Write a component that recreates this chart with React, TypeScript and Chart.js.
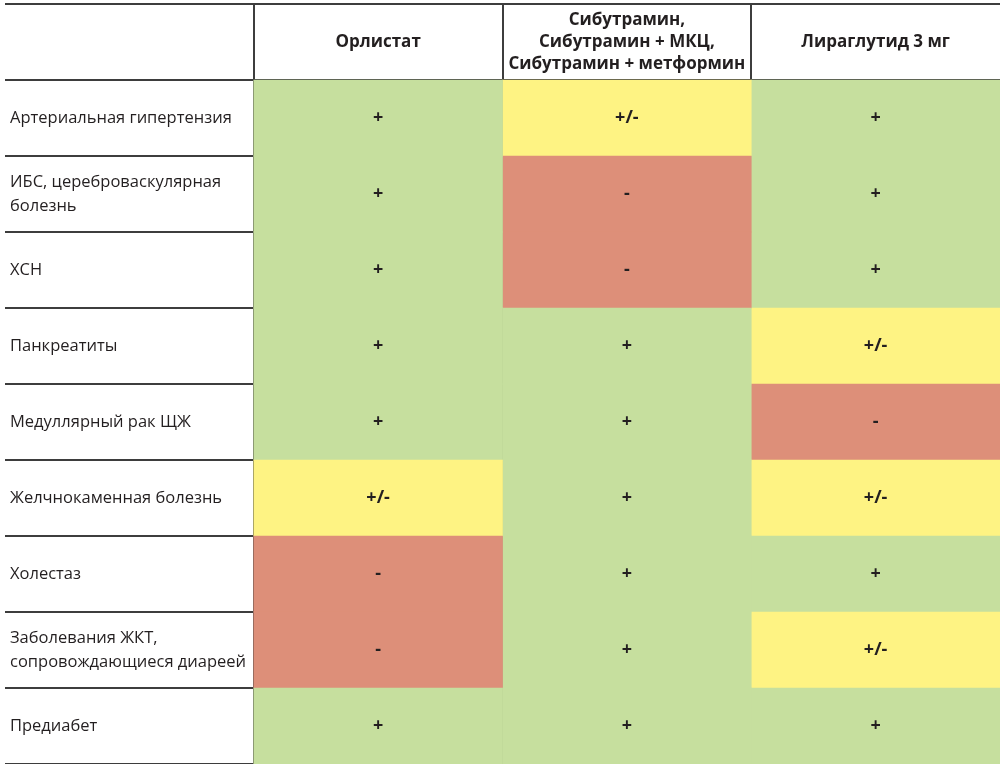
import React, { useEffect, useRef } from 'react';
import { Chart, registerables } from 'chart.js';

Chart.register(...registerables);

const rowLabels: string[][] = [
  ['Артериальная гипертензия'],
  ['ИБС, цереброваскулярная', 'болезнь'],
  ['ХСН'],
  ['Панкреатиты'],
  ['Медуллярный рак ЩЖ'],
  ['Желчнокаменная болезнь'],
  ['Холестаз'],
  ['Заболевания ЖКТ,', 'сопровождающиеся диареей'],
  ['Предиабет'],
];

const columnHeaders: string[][] = [
  ['Орлистат'],
  ['Сибутрамин,', 'Сибутрамин + МКЦ,', 'Сибутрамин + метформин'],
  ['Лираглутид 3 мг'],
];

const orlistat = ['+', '+', '+', '+', '+', '+/-', '-', '-', '+'];
const sibutramine = ['+/-', '-', '-', '+', '+', '+', '+', '+', '+'];
const liraglutide = ['+', '+', '+', '+/-', '-', '+/-', '+', '+/-', '+'];

const columns = [orlistat, sibutramine, liraglutide];

const statusColors: Record<string, string> = {
  '+': '#c6df9e',
  '+/-': '#fef383',
  '-': '#dd8f79',
};

const LINE = '#3d3d3d';
const TEXT = '#231f20';
const FONT = '"Open Sans", "Noto Sans", sans-serif';

const categories = ['header', ...rowLabels.map((l) => l.join(' '))];

const tablePlugin = {
  id: 'tableText',
  afterDraw(chart: any) {
    const { ctx } = chart;
    const x = chart.scales.x;
    const y = chart.scales.y;
    ctx.save();
    ctx.fillStyle = TEXT;
    ctx.textBaseline = 'middle';

    // row labels
    ctx.textAlign = 'left';
    ctx.font = `16.5px ${FONT}`;
    rowLabels.forEach((lines, i) => {
      const cy = y.getPixelForValue(i + 1);
      const lh = 24;
      const start = cy - ((lines.length - 1) * lh) / 2;
      lines.forEach((t, j) => ctx.fillText(t, x.getPixelForValue(0) + 5, start + j * lh));
    });

    // headers
    ctx.textAlign = 'center';
    ctx.font = `bold 17px ${FONT}`;
    columnHeaders.forEach((lines, k) => {
      const cx = (x.getPixelForValue(k + 1) + x.getPixelForValue(k + 2)) / 2;
      const cy = y.getPixelForValue(0);
      const lh = 22;
      const start = cy - ((lines.length - 1) * lh) / 2;
      lines.forEach((t, j) => ctx.fillText(t, cx, start + j * lh));
    });

    // cell symbols
    ctx.font = `bold 18px ${FONT}`;
    chart.data.datasets.forEach((ds: any, k: number) => {
      const meta = chart.getDatasetMeta(k);
      meta.data.forEach((el: any, i: number) => {
        if (i === 0) return;
        const cx = (x.getPixelForValue(k + 1) + x.getPixelForValue(k + 2)) / 2;
        ctx.fillText(columns[k][i - 1], cx, el.y);
      });
    });
    ctx.restore();
  },
};

export default function App() {
  const ref = useRef<HTMLCanvasElement>(null);
  useEffect(() => {
    if (!ref.current) return;
    const datasets = columns.map((col, k) => ({
      label: columnHeaders[k].join(' '),
      data: [null, ...col.map(() => [k + 1, k + 2])] as any,
      backgroundColor: ['rgba(0,0,0,0)', ...col.map((s) => statusColors[s])],
      borderWidth: 0,
      borderSkipped: false,
      barPercentage: 1,
      categoryPercentage: 1,
      grouped: false,
    }));
    const chart = new Chart(ref.current, {
      type: 'bar',
      data: { labels: categories, datasets },
      options: {
        indexAxis: 'y',
        animation: false,
        responsive: true,
        maintainAspectRatio: false,
        layout: { padding: { top: 4, left: 5, right: 0, bottom: 0 } },
        plugins: { legend: { display: false }, tooltip: { enabled: false } },
        scales: {
          x: {
            type: 'linear',
            min: 0,
            max: 4,
            z: 1,
            ticks: { display: false, stepSize: 1 },
            border: { display: false },
            grid: {
              drawTicks: false,
              lineWidth: 2,
              color: (c: any) =>
                c.tick && c.tick.value > 0 && c.tick.value < 4 ? LINE : 'rgba(0,0,0,0)',
            },
          },
          y: {
            type: 'category',
            z: 1,
            ticks: { display: false },
            border: { display: false },
            grid: { drawTicks: false, lineWidth: 2, color: LINE, offset: true },
          },
        },
      },
      plugins: [tablePlugin],
    });
    return () => chart.destroy();
  }, []);
  return (
    <div style={{ position: 'absolute', left: 0, top: 0, width: 1000, height: 764, background: '#fff' }}>
      <canvas ref={ref} />
    </div>
  );
}
